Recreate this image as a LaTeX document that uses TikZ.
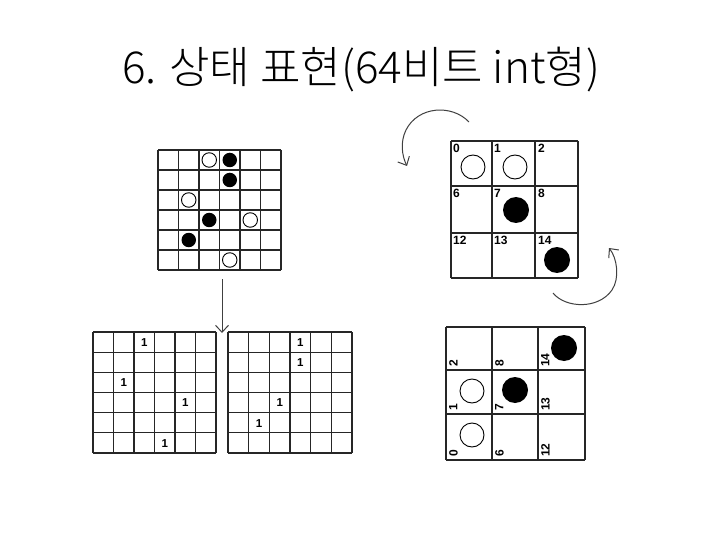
\documentclass[tikz,border=0pt]{standalone}
\usepackage{fontspec}
\setmainfont{Liberation Sans}
\newfontfamily\krfont{Noto Sans CJK KR Light}
\usetikzlibrary{arrows.meta}
\newcommand{\drawsixgrid}[4]{%
  \foreach \i in {0,...,6} {
    \draw[gridline] ({#1+\i*#3},#2) -- ({#1+\i*#3},{#2+6*#4});
    \draw[gridline] (#1,{#2+\i*#4}) -- ({#1+6*#3},{#2+\i*#4});
  }}
\begin{document}
\begin{tikzpicture}[x=1pt,y=-1pt,
  gridline/.style={line width=1.1pt,black!85},
  bigline/.style={line width=1.2pt,black!85},
  wstone/.style={circle,draw=black,line width=0.9pt,fill=white,inner sep=0pt,minimum size=#1},
  wstone/.default=14.5pt,
  bstone/.style={circle,fill=black,inner sep=0pt,minimum size=#1},
  bstone/.default=14.5pt,
  onebit/.style={font=\fontsize{11.5}{13}\selectfont\bfseries,inner sep=0pt},
  cellnum/.style={font=\fontsize{12}{14}\selectfont\bfseries,inner sep=0pt,anchor=north west},
  rotnum/.style={font=\fontsize{12}{14}\selectfont\bfseries,inner sep=0pt,anchor=north west,rotate=90},
  hand/.style={line width=1pt,black!75,-{Straight Barb[length=7pt,width=13pt]}}
]
\useasboundingbox[fill=white] (0,0) rectangle (720,540);

\node[font=\krfont\fontsize{44}{50}\selectfont,inner sep=0pt] (title) at (361,70) {6. 상태 표현(64비트 int형)};

% top-left board
\drawsixgrid{158}{150}{20.5}{20}
\node[wstone] (w1) at (209.25,160) {};
\node[wstone] (w2) at (188.75,200) {};
\node[wstone] (w3) at (250.25,220) {};
\node[wstone] (w4) at (229.75,260) {};
\node[bstone] (b1) at (229.75,160) {};
\node[bstone] (b2) at (229.75,180) {};
\node[bstone] (b3) at (209.25,220) {};
\node[bstone] (b4) at (188.75,240) {};

% arrow down
\coordinate (arrowtop) at (222,279);
\coordinate (arrowbot) at (222,333);
\draw[hand] (arrowtop) -- (arrowbot);

% bottom-left bitboard
\drawsixgrid{93}{332}{20.5}{20.17}
\node[onebit] (l1) at (144.25,342.5) {1};
\node[onebit] (l2) at (123.75,382.8) {1};
\node[onebit] (l3) at (185.25,403) {1};
\node[onebit] (l4) at (164.75,443.3) {1};

% bottom-right bitboard
\drawsixgrid{228}{332}{20.67}{20.17}
\node[onebit] (r1) at (300.3,342.5) {1};
\node[onebit] (r2) at (300.3,362.7) {1};
\node[onebit] (r3) at (279.7,403) {1};
\node[onebit] (r4) at (259,423.2) {1};

% top-right 3x3 board
\foreach \x in {451,492,535,578} \draw[bigline] (\x,141) -- (\x,278);
\foreach \y in {141,186,233,278} \draw[bigline] (451,\y) -- (578,\y);
\node[cellnum] (n0) at (453,144) {0};
\node[cellnum] (n1) at (494,144) {1};
\node[cellnum] (n2) at (538,144) {2};
\node[cellnum] (n6) at (453,189) {6};
\node[cellnum] (n7) at (494,189) {7};
\node[cellnum] (n8) at (538,189) {8};
\node[cellnum] (n12) at (453,236) {12};
\node[cellnum] (n13) at (494,236) {13};
\node[cellnum] (n14) at (538,236) {14};
\node[wstone=24pt] (tw0) at (473,167) {};
\node[wstone=24pt] (tw1) at (515,167) {};
\node[bstone=26pt] (tb7) at (516,210) {};
\node[bstone=26pt] (tb14) at (557,260) {};

% rotated 3x3 board
\foreach \x in {446,492,538,585} \draw[bigline] (\x,327) -- (\x,460);
\foreach \y in {327,370,414,460} \draw[bigline] (446,\y) -- (585,\y);
\node[rotnum] (m2) at (449,367) {2};
\node[rotnum] (m8) at (495,367) {8};
\node[rotnum] (m14) at (541,367) {14};
\node[rotnum] (m1) at (449,411) {1};
\node[rotnum] (m7) at (495,411) {7};
\node[rotnum] (m13) at (541,411) {13};
\node[rotnum] (m0) at (449,457) {0};
\node[rotnum] (m6) at (495,457) {6};
\node[rotnum] (m12) at (541,457) {12};
\node[wstone=24pt] (rw1) at (472,391) {};
\node[wstone=24pt] (rw0) at (472,435) {};
\node[bstone=26pt] (rb7) at (515,390) {};
\node[bstone=26pt] (rb14) at (564,348) {};

% curved rotation arrows
\coordinate (arcAs) at (469,122);
\coordinate (arcAe) at (407,166);
\draw[hand] (arcAs) .. controls (452,104) and (418,106) .. (406,130)
  .. controls (400,142) and (402,156) .. (arcAe);
\coordinate (arcBs) at (553,293);
\coordinate (arcBe) at (609,248);
\draw[hand] (arcBs) .. controls (565,308) and (598,310) .. (612,290)
  .. controls (620,278) and (617,258) .. (arcBe);
\end{tikzpicture}
\end{document}
